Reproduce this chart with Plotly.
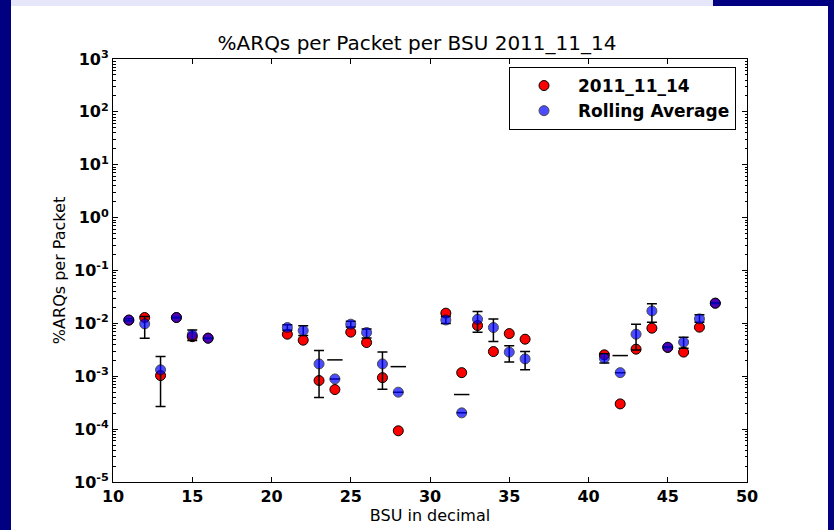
import plotly.graph_objects as go

# ---- data ----
bsu = [11, 12, 13, 14, 15, 16, 21, 22, 23, 24, 25, 26, 27, 28,
       31, 32, 33, 34, 35, 36, 41, 42, 43, 44, 45, 46, 47, 48]
day_vals = [0.0115, 0.0129, 0.00103, 0.0129, 0.0056, 0.00525, 0.00624, 0.00481,
            0.00083, 0.00056, 0.00683, 0.00434, 0.00094, 0.000093,
            0.0156, 0.00117, 0.0091, 0.00293, 0.00641, 0.00502,
            0.00254, 0.0003, 0.00325, 0.00811, 0.0035, 0.00286, 0.00847, 0.0241]
roll_vals = [0.0116, 0.0098, 0.00132, 0.0129, 0.00606, 0.00525, 0.00834, 0.00731,
             0.00171, 0.00089, 0.00966, 0.0067, 0.00171, 0.0005,
             0.0116, 0.000203, 0.0120, 0.00834, 0.00286, 0.00213,
             0.0022, 0.00117, 0.00624, 0.0172, 0.00355, 0.00442, 0.01216, 0.0241]
roll_hi = [0.0122, 0.01345, 0.00236, 0.0131, 0.00753, 0.0053, 0.00938, 0.0090,
           0.00306, None, 0.0110, 0.00787, 0.00286, None,
           0.0135, None, 0.0167, 0.01216, 0.00376, 0.00293,
           0.00265, None, 0.00966, 0.0234, 0.0036, 0.00548, 0.0145, 0.0245]
roll_lo = [0.0111, 0.00525, 0.000267, 0.0127, 0.00473, 0.0052, 0.0074, 0.0059,
           0.000396, None, 0.0085, 0.0053, 0.00057, None,
           0.0100, None, 0.00683, 0.00453, 0.00185, 0.00132,
           0.00179, None, 0.00315, 0.01054, 0.0035, 0.0034, 0.0105, 0.0237]
# upper error caps whose lower end falls below zero (only the cap is visible)
cap_bsu = [24, 28, 32, 42]
cap_vals = [0.00204, 0.00152, 0.000451, 0.00246]

y_tick_exp = [-5, -4, -3, -2, -1, 0, 1, 2, 3]
x_ticks = [10, 15, 20, 25, 30, 35, 40, 45, 50]

err_plus = [(h - v) if h is not None else 0 for h, v in zip(roll_hi, roll_vals)]
err_minus = [(v - l) if l is not None else 0 for l, v in zip(roll_lo, roll_vals)]

# ---- layout geometry (pixels) ----
W, H = 834, 530
L, R, T, B = 113, 87, 59, 48
pw, ph = W - L - R, H - T - B


def px(x):
    return (x - L) / pw


def py(y):
    return (H - B - y) / ph


fig = go.Figure()

fig.add_trace(go.Scatter(
    x=bsu, y=day_vals, mode="markers", name="2011_11_14",
    marker=dict(color="#ff0000", size=10, line=dict(color="black", width=1)),
))
fig.add_trace(go.Scatter(
    x=bsu, y=roll_vals, mode="markers", name="Rolling Average",
    marker=dict(color="#0000ff", size=10, opacity=0.7,
                line=dict(color="black", width=1)),
    error_y=dict(type="data", symmetric=False, array=err_plus,
                 arrayminus=err_minus, color="black", thickness=1.5, width=5),
))
fig.add_trace(go.Scatter(
    x=cap_bsu, y=cap_vals, mode="markers", showlegend=False, hoverinfo="skip",
    marker=dict(symbol="line-ew", size=11, color="black",
                line=dict(color="black", width=1.5)),
))

font_fam = "DejaVu Sans"

fig.update_layout(
    width=W, height=H,
    margin=dict(l=L, r=R, t=T, b=B, pad=0),
    paper_bgcolor="white", plot_bgcolor="white",
    font=dict(family=font_fam, color="black"),
    title=dict(text="%ARQs per Packet per BSU 2011_11_14",
               x=px((L + W - R) / 2), xanchor="center",
               y=1 - 43 / H, yanchor="middle",
               font=dict(size=20, family=font_fam, color="black")),
    showlegend=True,
    legend=dict(x=px(736), y=py(67), xanchor="right", yanchor="top",
                bgcolor="white", bordercolor="black", borderwidth=1,
                font=dict(size=17, family=font_fam, color="black", weight="bold"),
                tracegroupgap=0, itemwidth=58),
    xaxis=dict(range=[10, 50], tickvals=x_ticks, ticktext=[str(v) for v in x_ticks],
               ticks="inside", ticklen=5, tickwidth=1, tickcolor="black",
               showline=True, linecolor="black", linewidth=1, mirror="allticks",
               showgrid=False, zeroline=False,
               tickfont=dict(size=16, family=font_fam, color="black", weight="bold"),
               title=dict(text="BSU in decimal", standoff=1,
                          font=dict(size=16, family=font_fam, color="black"))),
    yaxis=dict(type="log", range=[-5, 3],
               tickvals=[10 ** e for e in y_tick_exp],
               ticktext=["10<sup>%d</sup>" % e for e in y_tick_exp],
               ticks="inside", ticklen=5, tickwidth=1, tickcolor="black",
               minor=dict(ticks="inside", ticklen=2.5, tickcolor="black",
                          dtick="D1", showgrid=False),
               showline=True, linecolor="black", linewidth=1, mirror="allticks",
               showgrid=False, zeroline=False,
               tickfont=dict(size=16, family=font_fam, color="black", weight="bold"),
               title=dict(text="%ARQs per Packet", standoff=4,
                          font=dict(size=16, family=font_fam, color="black"))),
    shapes=[
        dict(type="rect", xref="paper", yref="paper", layer="above",
             x0=px(0), x1=px(11), y0=py(0), y1=py(H),
             fillcolor="#000080", line=dict(width=0)),
        dict(type="rect", xref="paper", yref="paper", layer="above",
             x0=px(11), x1=px(713), y0=py(0), y1=py(6),
             fillcolor="#e6e6fa", line=dict(width=0)),
        dict(type="rect", xref="paper", yref="paper", layer="above",
             x0=px(713), x1=px(W), y0=py(0), y1=py(6),
             fillcolor="#000080", line=dict(width=0)),
        dict(type="rect", xref="paper", yref="paper", layer="above",
             x0=px(828), x1=px(W), y0=py(0), y1=py(H),
             fillcolor="#000080", line=dict(width=0)),
    ],
)

fig.write_html("out.html")
